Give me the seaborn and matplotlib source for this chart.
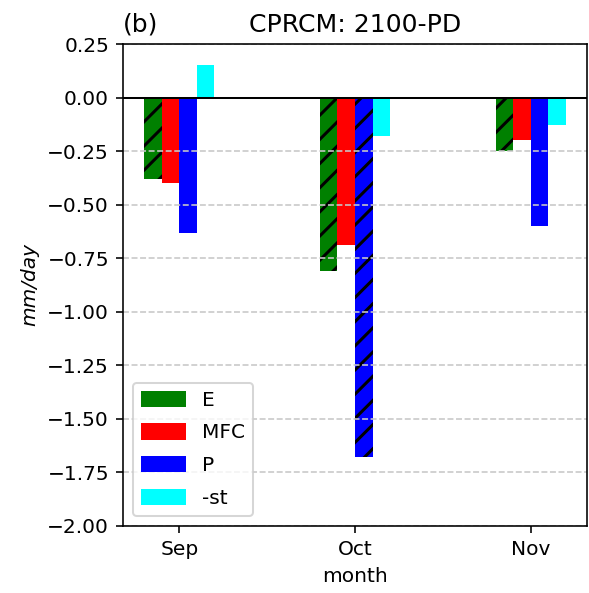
import matplotlib
matplotlib.use("Agg")
import matplotlib.pyplot as plt
import seaborn as sns
import pandas as pd
import numpy as np
from matplotlib.patches import Patch

months = ["Sep", "Oct", "Nov"]
variables = ["E", "MFC", "P", "-st"]
E_vals = [-0.38, -0.81, -0.25]
MFC_vals = [-0.40, -0.69, -0.20]
P_vals = [-0.63, -1.68, -0.60]
st_vals = [0.15, -0.18, -0.13]
colors = ["green", "red", "blue", "cyan"]
hatched = {"E": [True, True, True], "MFC": [False, False, False],
           "P": [False, True, False], "-st": [False, False, False]}
yticks = [-2.0, -1.75, -1.5, -1.25, -1.0, -0.75, -0.5, -0.25, 0.0, 0.25]

rows = []
for v, vals in zip(variables, [E_vals, MFC_vals, P_vals, st_vals]):
    for m, val in zip(months, vals):
        rows.append({"month": m, "var": v, "value": val})
df = pd.DataFrame(rows)

plt.rcParams['font.family'] = ['DejaVu Sans']
plt.rcParams['font.size'] = 10
plt.rcParams['hatch.linewidth'] = 1.5
plt.rcParams['hatch.color'] = 'black'

DPI = 145
fig = plt.figure(figsize=(589 / DPI, 593 / DPI), dpi=DPI)
ax = fig.add_axes([0.209, 0.113, 0.7876, 0.8128])

sns.barplot(data=df, x="month", y="value", hue="var", order=months,
            hue_order=variables, palette=colors, width=0.4, ax=ax,
            errorbar=None, saturation=1, linewidth=0, legend=False)

for cont, v in zip(ax.containers, variables):
    for patch, h in zip(cont.patches, hatched[v]):
        patch.set_linewidth(0)
        if h:
            patch.set_hatch('//')
            patch.set_edgecolor('black')
            patch.set_linewidth(0)

ax.set_xlim(-0.32, 2.32)
ax.set_ylim(-2.0, 0.25)
ax.set_yticks(yticks)
ax.set_yticklabels([f"{t:.2f}".replace("-", "\u2212") for t in yticks])
ax.axhline(0, color='black', linewidth=1.0, zorder=3)
ax.yaxis.grid(True, linestyle='--', color='#c8c8c8', linewidth=0.8)
ax.set_axisbelow(False)
for s in ax.spines.values():
    s.set_visible(True)
    s.set_zorder(3)

ax.set_xlabel("month")
ax.set_ylabel("mm/day", style='italic')
ax.set_title("CPRCM: 2100-PD", fontsize=12.5)
ax.set_title("(b)", loc='left', fontsize=12.5)

handles = [Patch(facecolor=c, label=v) for c, v in zip(colors, variables)]
ax.legend(handles=handles, loc='lower left', handlelength=2.2,
          handleheight=0.85, labelspacing=0.68, frameon=True)

fig.savefig("out.png", dpi=DPI)
